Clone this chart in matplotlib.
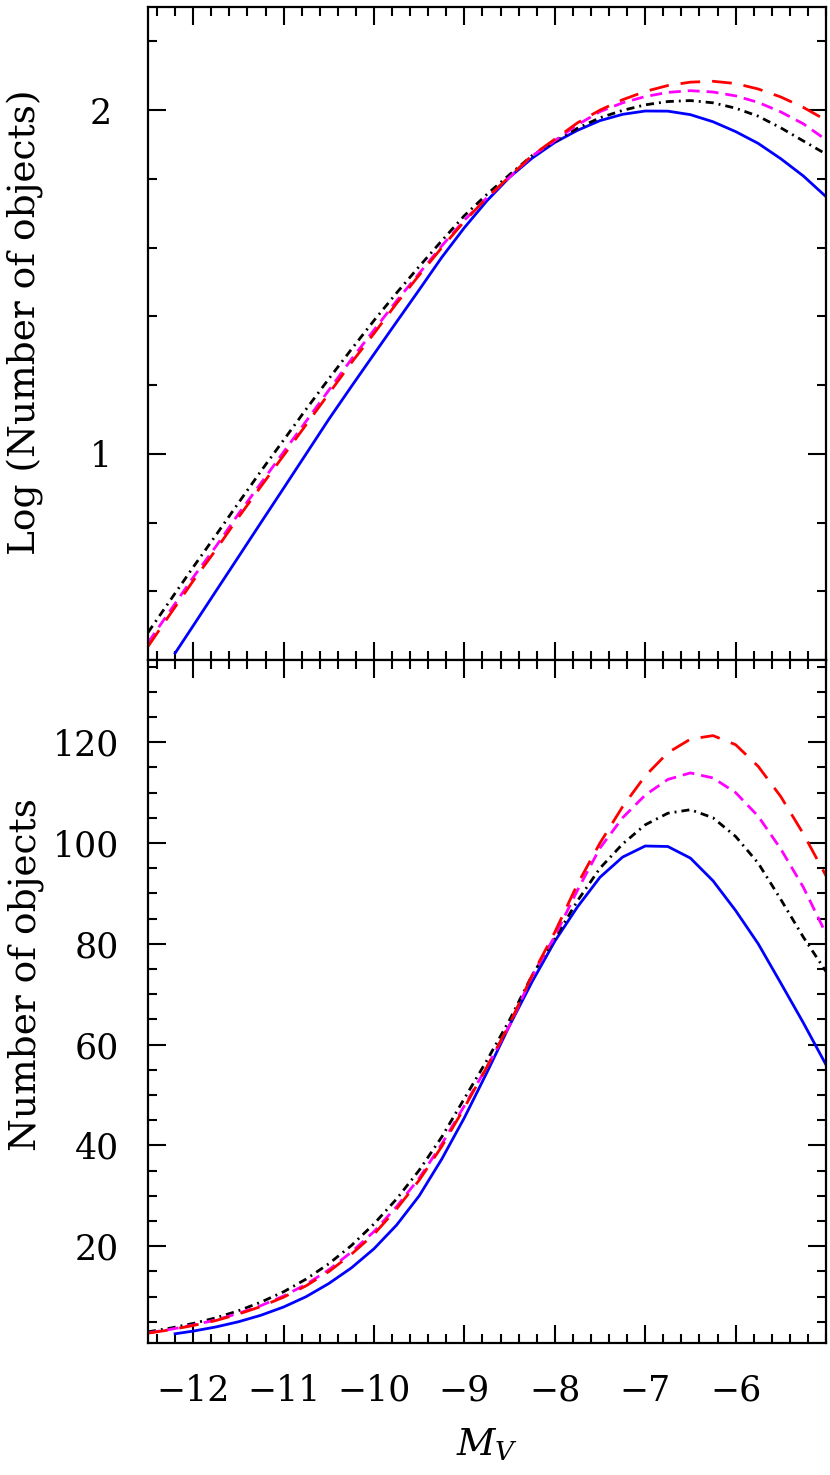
import numpy as np
import matplotlib.pyplot as plt
from matplotlib.ticker import MultipleLocator, FixedLocator

plt.rcParams["font.family"] = ["DejaVu Serif"]
plt.rcParams["mathtext.fontset"] = "dejavuserif"

# data (number of objects per M_V)
MV = [-12.5, -12.25, -12.0, -11.75, -11.5, -11.25, -11.0, -10.75, -10.5, -10.25,
      -10.0, -9.75, -9.5, -9.25, -9.0, -8.75, -8.5, -8.25, -8.0, -7.75,
      -7.5, -7.25, -7.0, -6.75, -6.5, -6.25, -6.0, -5.75, -5.5, -5.25, -5.0]
MV_BLUE = [-12.2] + MV[2:]
MV_TICKS = [-12, -11, -10, -9, -8, -7, -6]

n_blue = [2.63, 3.16, 3.98, 5.01, 6.31, 7.94, 10.0, 12.6, 15.7,
          19.5, 24.2, 30.0, 37.3, 45.5, 54.5, 63.8, 72.5, 80.5, 87.3,
          93.2, 97.2, 99.4, 99.3, 97.0, 92.5, 86.6, 80.0, 72.2, 64.3, 56.0]
n_black = [3.02, 3.76, 4.68, 5.79, 7.19, 8.91, 10.96, 13.49, 16.52, 20.14,
           24.43, 29.38, 35.08, 41.69, 49.32, 56.9, 64.9, 73.8, 81.0, 88.5,
           95.0, 99.8, 103.6, 105.9, 106.6, 105.0, 101.3, 96.0, 88.8, 81.3, 74.5]
n_magenta = [2.82, 3.51, 4.37, 5.37, 6.68, 8.22, 10.12, 12.45, 15.31, 18.84,
             22.91, 27.86, 33.50, 40.27, 47.86, 55.6, 63.8, 73.6, 81.5, 90.6,
             99.0, 105.0, 109.5, 112.6, 113.9, 112.9, 110.0, 105.3, 98.8, 91.2, 82.0]
n_red = [2.75, 3.43, 4.27, 5.25, 6.53, 8.04, 9.89, 12.16, 14.96, 18.41,
         22.39, 27.4, 33.1, 39.8, 47.5, 55.6, 64.1, 73.8, 82.3, 91.8,
         100.0, 107.2, 113.3, 117.9, 120.6, 121.3, 119.5, 115.2, 109.2, 101.8, 93.5]

LW = 2.0
series = [
    (MV_BLUE, n_blue, dict(color="#0000ff", lw=LW, ls="-")),
    (MV, n_black, dict(color="black", lw=LW, ls=(0, (2.9, 1.8, 0.7, 1.8)))),
    (MV, n_magenta, dict(color="#ff00ff", lw=LW, ls=(0, (4.3, 2.5)))),
    (MV, n_red, dict(color="#ff0000", lw=LW, ls=(0, (7.1, 4.3)))),
]

W, H = 830, 1475
fig = plt.figure(figsize=(W / 100, H / 100), dpi=100)
L, R = 148 / W, 826 / W
ax_top = fig.add_axes([L, 1 - 660 / H, R - L, (660 - 7) / H])
ax_bot = fig.add_axes([L, 1 - 1343 / H, R - L, (1343 - 660) / H])

for x, n, st in series:
    ax_top.plot(x, np.log10(n), **st)
    ax_bot.plot(x, n, **st)

for ax in (ax_top, ax_bot):
    ax.set_xlim(-12.5, -5.0)
    ax.xaxis.set_major_locator(FixedLocator(MV_TICKS))
    ax.xaxis.set_minor_locator(MultipleLocator(0.2))
    ax.tick_params(which="both", direction="in", top=True, right=True, width=1.5,
                   labelsize=25)
    ax.tick_params(which="major", length=13)
    ax.tick_params(which="minor", length=6.5)
    for s in ax.spines.values():
        s.set_linewidth(1.6)

ax_top.set_ylim(0.4, 2.3)
ax_top.yaxis.set_major_locator(MultipleLocator(1))
ax_top.yaxis.set_minor_locator(MultipleLocator(0.2))
ax_top.tick_params(axis="x", labelbottom=False)
ax_top.tick_params(axis="y", pad=26)
ax_top.set_ylabel("Log (Number of objects)", fontsize=27)
ax_top.yaxis.label.set_va("center")
ax_top.yaxis.set_label_coords(-0.181, 0.518)

ax_bot.set_ylim(0.8, 136.3)
ax_bot.set_yticks([20, 40, 60, 80, 100, 120])
ax_bot.yaxis.set_minor_locator(MultipleLocator(5))
ax_bot.tick_params(axis="y", pad=21)
ax_bot.tick_params(axis="x", pad=22)
ax_bot.set_ylabel("Number of objects", fontsize=27)
ax_bot.yaxis.label.set_va("center")
ax_bot.yaxis.set_label_coords(-0.181, 0.539)
ax_bot.set_xlabel(r"$M_V$", fontsize=27)
ax_bot.xaxis.label.set_va("center")
ax_bot.xaxis.set_label_coords(0.5, -0.149)

fig.savefig("out.png", dpi=100)
